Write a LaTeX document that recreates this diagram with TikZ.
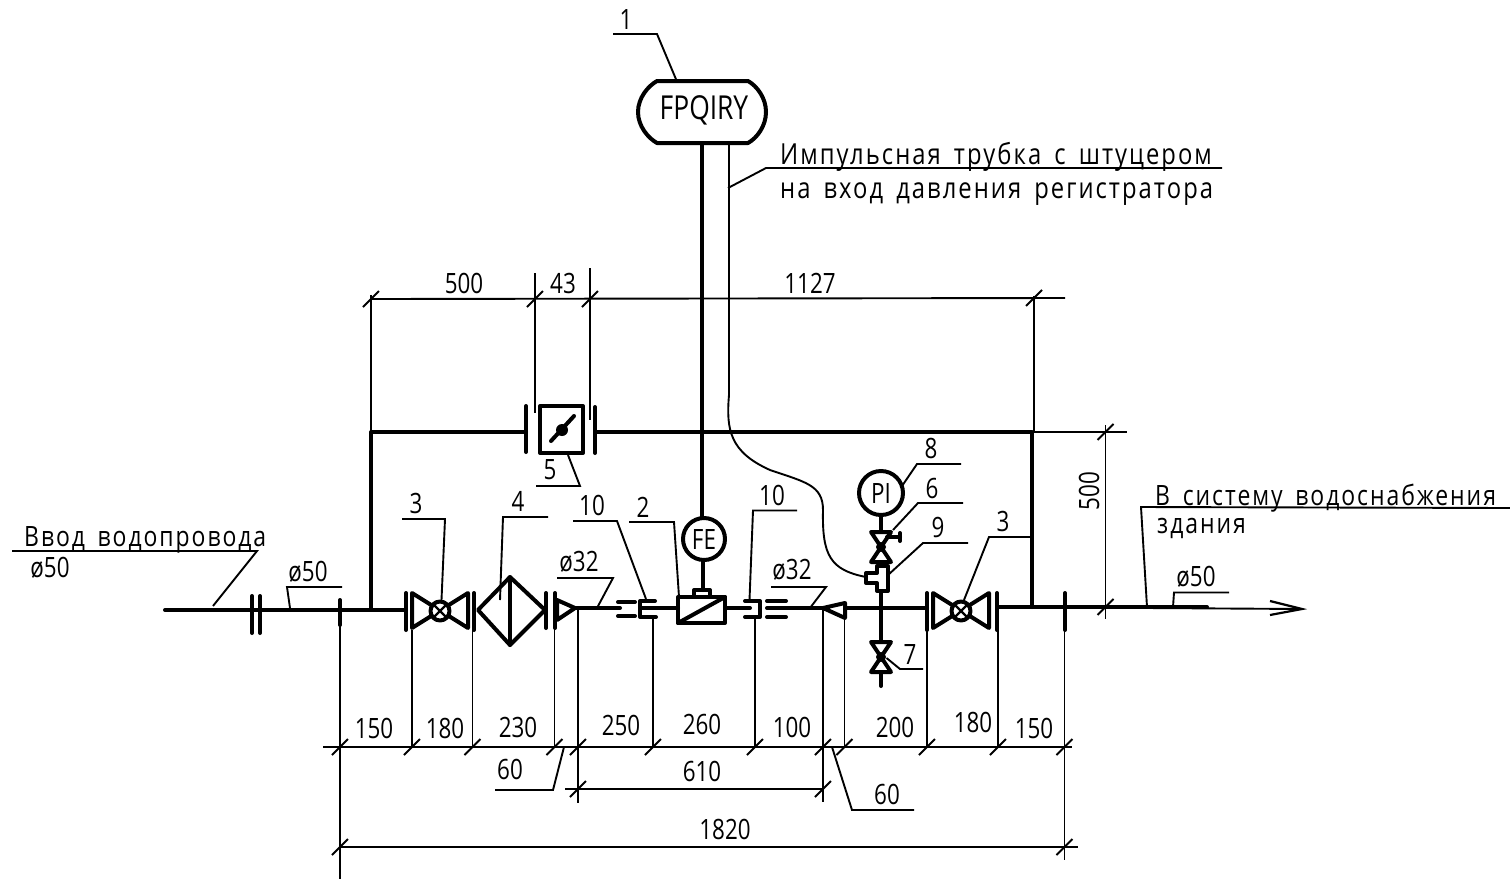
\documentclass[tikz,border=0pt]{standalone}
\usepackage{fontspec}
\setmainfont{Open Sans}[FakeStretch=0.8]
\newfontfamily\notefont{Open Sans}[FakeStretch=0.82,LetterSpace=7,WordSpace=1.6]
\tikzset{
	pipe/.style={line width=4,line cap=round,line join=round},
	thinline/.style={line width=1.9},
	label/.style={inner sep=0pt,font=\fontsize{28}{28}\selectfont},
	biglabel/.style={inner sep=0pt,font=\fontsize{33}{33}\selectfont},
	note/.style={inner sep=0pt,anchor=base west,font=\notefont\fontsize{29}{29}\selectfont},
	shortnote/.style={inner sep=0pt,anchor=base west,font=\notefont\fontsize{28}{28}\selectfont},
}
\begin{document}
\begin{tikzpicture}[x=1pt,y=-1pt]
			\useasboundingbox (0,0) rectangle (1510,879);
			\coordinate (VA) at (440,611);
			\coordinate (VB) at (961,611);
			\coordinate (FE) at (704,539);
			\coordinate (PI) at (881,493);
			\coordinate (VC) at (881,547);
			\coordinate (VD) at (881,657);
			\coordinate (SW) at (562,430);
			\draw [pipe] (165,610) to (406,610);
			\draw [pipe] (252,596) to (252,633);
			\draw [pipe] (260,596) to (260,633);
			\draw [pipe] (340,600) to (340,625);
			\draw [pipe] (371,609) to (371,432) to (526,432);
			\draw [pipe] (526,406) to (526,452);
			\draw [pipe] (540,406) rectangle (583,453);
			\draw [pipe] (551,441) to (574,416);
			\fill (SW) circle (6);
			\draw [pipe] (595,407) to (595,453);
			\draw [pipe] (595,432) to (1032,432) to (1032,607);
			\draw [pipe] (702,145) to (702,520);
			\draw [pipe] (703,560) to (703,590);
			\draw [pipe,fill=white] (FE) circle (21);
			\draw [pipe] (694,597) rectangle (710,590);
			\draw [pipe] (678,597) rectangle (725,623);
			\draw [pipe] (678,623) to (725,597);
			\draw [pipe] (406,593) to (406,630);
			\draw [pipe] (474,593) to (474,630);
			\draw [pipe] (478,610) to (510,577) to (545,610) to (510,645) to cycle;
			\draw [pipe] (510,577) to (510,645);
			\draw [pipe] (546,593) to (546,628);
			\draw [pipe] (555,593) to (555,628);
			\draw [pipe] (557,600) to (575,608) to (557,620) to cycle;
			\draw [pipe] (575,608) to (620,608);
			\draw [pipe] (618,602) to (635,602);
			\draw [pipe] (618,616) to (635,616);
			\draw [pipe] (655,601) to (640,601) to (640,617) to (656,617);
			\draw [pipe] (640,608) to (678,608);
			\draw [pipe] (725,608) to (750,608);
			\draw [pipe] (745,601) to (760,601) to (760,617) to (745,617);
			\draw [pipe] (767,601) to (786,601);
			\draw [pipe] (767,617) to (786,617);
			\draw [pipe] (767,608) to (823,608);
			\draw [pipe] (845,603) to (823,608) to (845,618) to cycle;
			\draw [pipe] (845,608) to (927,608);
			\draw [pipe] (927,593) to (927,630);
			\draw [pipe] (997,593) to (997,630);
			\draw [pipe] (997,607) to (1207,607);
			\draw [pipe] (1065,593) to (1065,630);
			\foreach \valve in {VA,VB} {
				\draw [pipe,shift={(\valve)}] (-28,-18) to (-28,17) to (28,-18) to (28,17) to cycle;
				\draw [pipe,fill=white,shift={(\valve)}] (0,0) circle (9.5);
				\draw [line width=2.4,shift={(\valve)}] (-6.5,-6.5) to (6.5,6.5);
				\draw [line width=2.4,shift={(\valve)}] (-6.5,6.5) to (6.5,-6.5);
			}
			\draw [pipe,fill=white] (PI) circle (22);
			\draw [pipe] (881,515) to (881,531);
			\draw [pipe] (881,562) to (881,686);
			\foreach \valve in {VC,VD} {
				\draw [pipe,fill=white,shift={(\valve)}] (-10,-15) to (10,-15) to (-10,15) to (10,15) to cycle;
				\fill [shift={(\valve)}] (0,0) circle (5);
			}
			\draw [pipe] (887,537) to (900,537);
			\draw [pipe] (900,533) to (900,541);
			\draw [pipe,fill=white] (877,566) to (888,566) to (888,591) to (877,591) to (877,583) to (866,583) to (866,573) to (877,573) to cycle;
			\draw [line width=1.9,line join=round] (729,145) to (729,395) .. controls (726,430) and (730,452) .. (770,470) .. controls (805,482) and (823,485) .. (823,510) .. controls (822,555) and (830,570) .. (866,577);
			\draw [thinline] (1147,608) to (1302,609);
			\draw [line width=2.2] (1270,601) to (1302,609) to (1270,615);
			\draw [thinline] (371,299) to (1065,298);
			\draw [thinline] (371,295) to (371,432);
			\draw [thinline] (535,273) to (535,413);
			\draw [thinline] (590,268) to (590,420);
			\draw [thinline] (1034,296) to (1034,432);
			\draw [thinline] (1032,432) to (1127,432);
			\draw [thinline] (1105.5,425) to (1105.5,619);
			\draw [thinline] (323,747) to (1072,747);
			\draw [thinline] (340,625) to (340,879);
			\draw [thinline] (412,630) to (412,747);
			\draw [thinline] (472.5,610) to (472.5,747);
			\draw [thinline] (554.5,625) to (554.5,747);
			\draw [thinline] (578,610) to (578,803);
			\draw [thinline] (653,617) to (653,747);
			\draw [thinline] (755,617) to (755,747);
			\draw [thinline] (823,610) to (823,802);
			\draw [thinline] (844.5,618) to (844.5,747);
			\draw [thinline] (927,630) to (927,747);
			\draw [thinline] (998,630) to (998,747);
			\draw [thinline] (1064.5,630) to (1064.5,860);
			\draw [thinline] (565,789) to (823,789);
			\draw [thinline] (340,847) to (1078,847);
			\foreach \x/\y in {371/299,535/299,590/299,1034/298,1105.5/432,1105.5/607,340/747,412/747,472.5/747,554.5/747,578/747,653/747,755/747,823/747,844.5/747,927/747,998/747,1064.5/747,578/789,823/789,340/847,1064.5/847} {
				\draw [thinline,shift={(\x,\y)}] (-8,8) to (8,-8);
			}
			\draw [thinline] (613,34) to (657,34) to (678,84);
			\draw [thinline] (728,188) to (766,168) to (1222,168);
			\draw [thinline] (402,519) to (445,519) to (441.5,600);
			\draw [thinline] (548,517) to (503,517) to (500,600);
			\draw [thinline] (573,521) to (617,521) to (646,599);
			\draw [thinline] (629,522) to (674,522) to (679,597);
			\draw [thinline] (557,578) to (613,578) to (597,608);
			\draw [thinline] (536,486) to (580,486) to (568,455);
			\draw [thinline] (797,510.5) to (753,510.5) to (749.5,600);
			\draw [thinline] (771,587) to (826,587) to (810,608);
			\draw [thinline] (961,464) to (917,464) to (902,486);
			\draw [thinline] (963,503) to (918,503) to (893,530);
			\draw [thinline] (968,543) to (923,543) to (888,575);
			\draw [thinline] (923,669) to (900,669) to (886.5,658);
			\draw [thinline] (1033,537) to (989,537) to (964,600);
			\draw [thinline] (342,587) to (287,587) to (290,608);
			\draw [thinline] (1229,592.5) to (1174,592.5) to (1173,607);
			\draw [thinline] (12,551) to (257,551) to (213,606);
			\draw [thinline] (1510,508) to (1141,507) to (1147,607);
			\draw [thinline] (495,790) to (553,790) to (564,747);
			\draw [thinline] (914,810) to (852,810) to (832,747);
			\draw [pipe,fill=white] (657,81) to (748,81) .. controls (757,86) and (766,98) .. (766,112) .. controls (766,126) and (757,138) .. (748,143) to (657,143) .. controls (648,138) and (638,126) .. (638,112) .. controls (638,98) and (648,86) .. (657,81) -- cycle;
			\node [biglabel] (fpq) at (704,110) {FPQIRY};
			\node [label] (fe) at (FE) {FE};
			\node [label] (pi) at (PI) {PI};
			\node [note] (imp) at (780,164) {Импульсная трубка с штуцером};
			\node [note] (reg) at (780,198) {на вход давления регистратора};
			\node [shortnote] (vvod) at (24,546) {Ввод водопровода};
			\node [label] (dv) at (50,568) {ø50};
			\node [shortnote] (sys) at (1155,505) {В систему водоснабжения};
			\node [shortnote] (zd) at (1157,533) {здания};
			\node [label] (a1) at (626,20) {1};
			\node [label] (a3) at (416,503) {3};
			\node [label] (a4) at (518,501) {4};
			\node [label] (a10) at (592,505) {10};
			\node [label] (a2) at (643,507) {2};
			\node [label] (a5) at (550,470) {5};
			\node [label] (b10) at (772,495) {10};
			\node [label] (a8) at (931,448) {8};
			\node [label] (a6) at (932,488) {6};
			\node [label] (a9) at (938,527) {9};
			\node [label] (a7) at (910,654) {7};
			\node [label] (b3) at (1003,521) {3};
			\node [label] (d32) at (579,562) {ø32};
			\node [label] (e32) at (792,570) {ø32};
			\node [label] (d50) at (308,572) {ø50};
			\node [label] (e50) at (1196,577) {ø50};
			\node [label] (w500) at (464,283) {500};
			\node [label] (w43) at (563,283) {43};
			\node [label] (w1127) at (810,283) {1127};
			\node [label,rotate=90] (h500) at (1089,491) {500};
			\node [label] (l150) at (374,728) {150};
			\node [label] (l180) at (445,728) {180};
			\node [label] (l230) at (518,727) {230};
			\node [label] (l250) at (621,725) {250};
			\node [label] (l260) at (702,724) {260};
			\node [label] (l100) at (792,727) {100};
			\node [label] (l200) at (895,727) {200};
			\node [label] (r180) at (973,722) {180};
			\node [label] (r150) at (1034,728) {150};
			\node [label] (l60) at (510,769) {60};
			\node [label] (r60) at (887,794) {60};
			\node [label] (l610) at (702,771) {610};
			\node [label] (l1820) at (725,829) {1820};
		\end{tikzpicture}
\end{document}
